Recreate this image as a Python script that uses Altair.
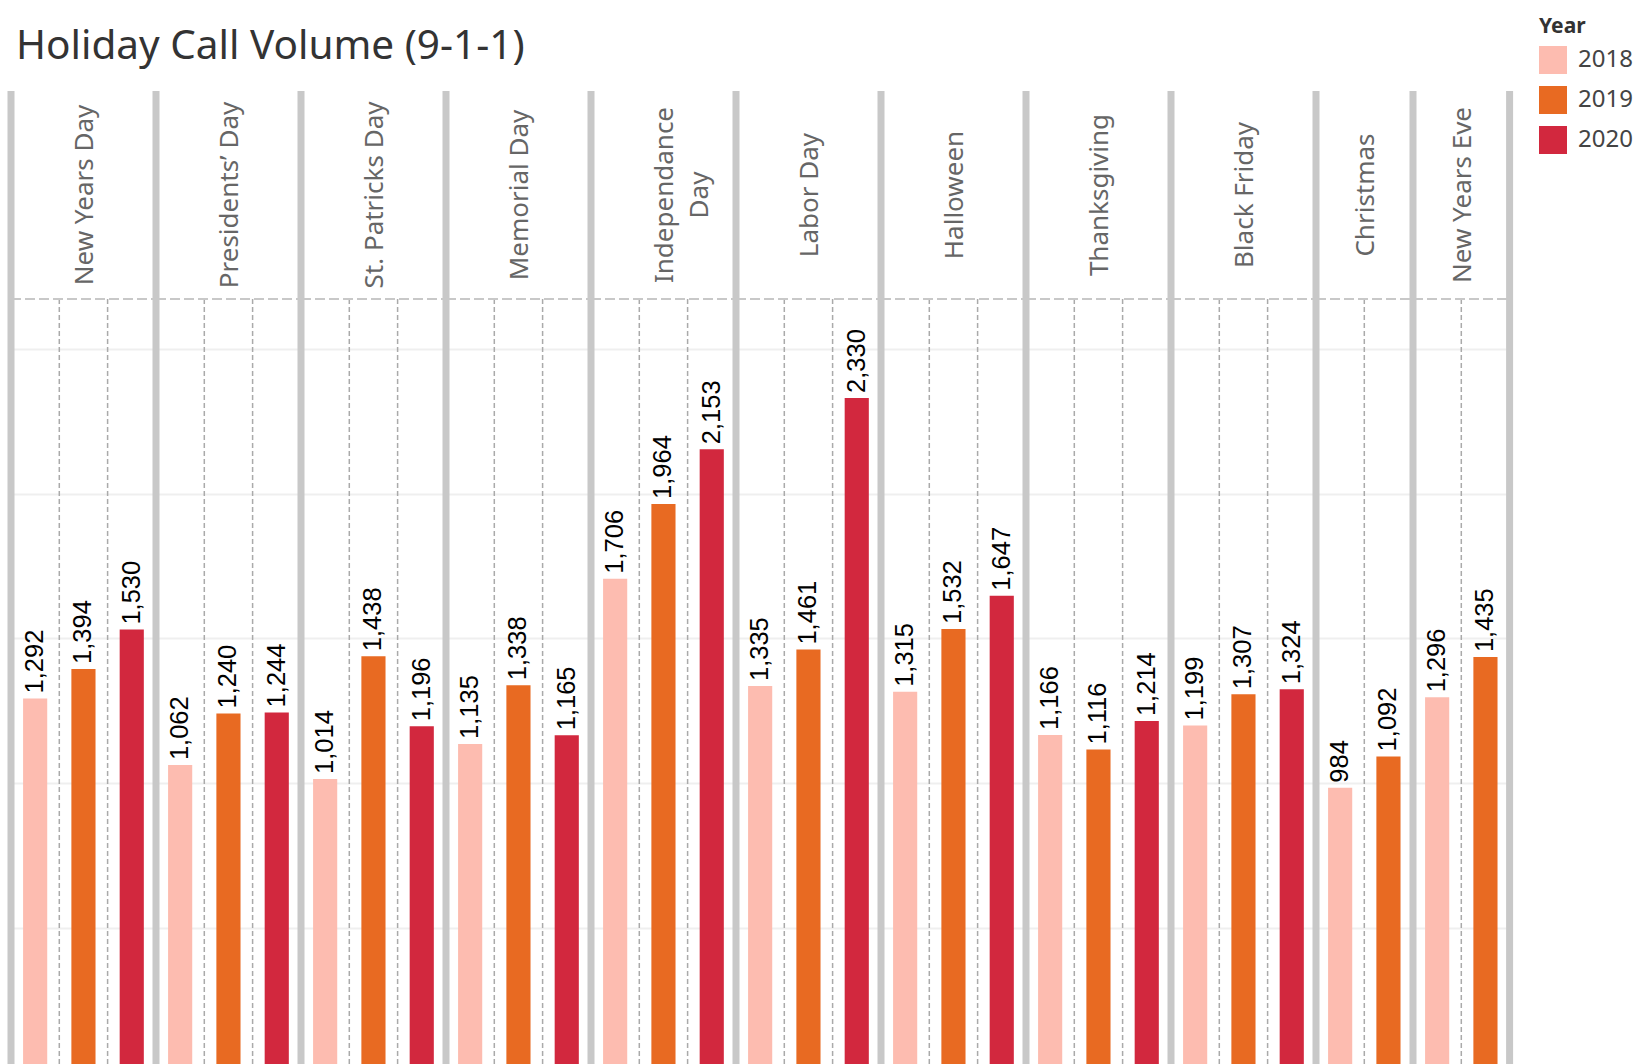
import altair as alt
import pandas as pd

# ---- data ----
title_text = "Holiday Call Volume (9-1-1)"
holidays = ["New Years Day", "Presidents’ Day", "St. Patricks Day", "Memorial Day",
            "Independance Day", "Labor Day", "Halloween", "Thanksgiving",
            "Black Friday", "Christmas", "New Years Eve"]
years = ["2018", "2019", "2020"]
calls_2018 = [1292, 1062, 1014, 1135, 1706, 1335, 1315, 1166, 1199, 984, 1296]
calls_2019 = [1394, 1240, 1438, 1338, 1964, 1461, 1532, 1116, 1307, 1092, 1435]
calls_2020 = [1530, 1244, 1196, 1165, 2153, 2330, 1647, 1214, 1324, None, None]
year_colors = ["#FDBCB0", "#E86A22", "#D2283E"]
header_lines = {"Independance Day": ["Independance", "Day"]}
grid_values = [500, 1000, 1500, 2000, 2500]

rows = []
for i, h in enumerate(holidays):
    for y, series in zip(years, [calls_2018, calls_2019, calls_2020]):
        if series[i] is not None:
            rows.append({"Holiday": h, "Year": y, "Calls": series[i]})
df = pd.DataFrame(rows)

# ---- layout constants ----
STEP = 48.3
HEADER_H = 208
VIEW_H = 973
Y_DOMAIN = [29.4, 2672]

panels = []
for idx, h in enumerate(holidays):
    sub = df[df.Holiday == h]
    n = len(sub)
    w = n * STEP
    base = alt.Chart(sub)
    xenc = alt.X("Year:N", axis=None,
                 scale=alt.Scale(paddingInner=0.5, paddingOuter=0.25))
    yenc = alt.Y("Calls:Q",
                 scale=alt.Scale(domain=Y_DOMAIN, range=[VIEW_H, HEADER_H],
                                 zero=False, nice=False),
                 axis=alt.Axis(values=grid_values, grid=True, labels=False,
                               ticks=False, domain=False, title=None,
                               gridColor="#efefef", gridWidth=2, minExtent=0))
    bars = base.mark_bar(clip=True).encode(
        x=xenc, y=yenc,
        color=alt.Color("Year:N", scale=alt.Scale(domain=years, range=year_colors),
                        legend=alt.Legend(title="Year", orient="none",
                                          legendX=1528, legendY=-75)),
    )
    labels = base.mark_text(angle=270, align="left", baseline="middle", dx=5,
                            font="Liberation Sans", fontSize=25.5, color="#000000").encode(
        x=xenc, y=yenc, text=alt.Text("Calls:Q", format=",")
    )
    first_year = sub.Year.iloc[0]
    dividers = base.transform_filter(alt.datum.Year != first_year).mark_rule(
        color="#aaaaaa", strokeWidth=1.5, strokeDash=[5, 3], xOffset=-STEP * 0.25
    ).encode(x=alt.X("Year:N", bandPosition=0, axis=None,
                     scale=alt.Scale(paddingInner=0.5, paddingOuter=0.25)),
             y=alt.value(HEADER_H), y2=alt.value(VIEW_H))
    one = alt.Chart(pd.DataFrame({"Holiday": [h]}))
    top_line = one.mark_rule(color="#c8c8c8", strokeWidth=2, strokeDash=[10, 4]).encode(
        x=alt.value(0), x2=alt.value(w), y=alt.value(HEADER_H))
    header = one.mark_text(angle=270, align="center", baseline="middle",
                           font="Noto Sans", fontSize=26, color="#666666",
                           lineHeight=35, text=header_lines.get(h, h)).encode(
        x=alt.value(w / 2 + 2), y=alt.value(HEADER_H / 2))
    seps = one.mark_rule(color="#c8c8c8", strokeWidth=7).encode(
        x=alt.value(0), y=alt.value(0), y2=alt.value(VIEW_H))
    layers = [dividers, top_line, bars, labels, header, seps]
    if idx == 0:
        layers.append(one.mark_text(text=title_text, align="left", baseline="alphabetic",
                                    font="Noto Sans", fontSize=40.5, color="#333333").encode(
            x=alt.value(5), y=alt.value(-32)))
    if idx == len(holidays) - 1:
        layers.append(one.mark_rule(color="#c8c8c8", strokeWidth=7).encode(
            x=alt.value(w), y=alt.value(0), y2=alt.value(VIEW_H)))
    panels.append(alt.layer(*layers).properties(width=w, height=VIEW_H))

chart = alt.hconcat(*panels, spacing=0, bounds="flush").resolve_scale(
    x="independent", y="independent", color="shared"
).properties(
    padding={"left": 7, "top": 16, "right": 5, "bottom": 0},
).configure_view(stroke=None).configure_legend(
    symbolType="square", symbolSize=784, symbolStrokeWidth=0,
    labelFontSize=24, labelFont="Noto Sans", labelColor="#444444",
    titleFontSize=21, titleFont="Noto Sans", titleColor="#333333",
    titleFontWeight="bold", titlePadding=9, rowPadding=12, padding=0, labelOffset=11,
)

chart.save("out.html", embed_options={"renderer": "svg", "actions": False})
